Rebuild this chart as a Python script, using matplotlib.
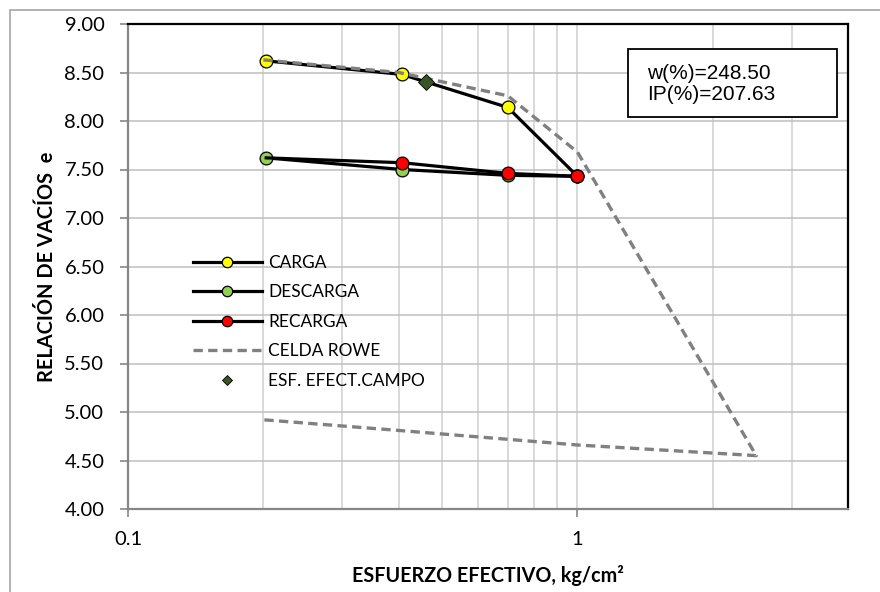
import matplotlib.pyplot as plt
from matplotlib.lines import Line2D
from matplotlib.patches import Rectangle
from matplotlib.ticker import FixedLocator, NullFormatter, FixedFormatter, FuncFormatter

plt.rcParams['font.family'] = ['Lato', 'DejaVu Sans']

# -------------------- data --------------------
carga_x = [0.203, 0.407, 0.70, 1.0]
carga_e = [8.62, 8.48, 8.14, 7.43]

descarga_x = [1.0, 0.70, 0.407, 0.203]
descarga_e = [7.43, 7.44, 7.50, 7.62]

recarga_x = [0.203, 0.407, 0.70, 1.0]
recarga_e = [7.62, 7.57, 7.46, 7.43]

rowe_x = [0.2, 0.4, 0.7, 1.0, 2.5, 1.0, 0.4, 0.2]
rowe_e = [8.63, 8.50, 8.26, 7.68, 4.55, 4.66, 4.81, 4.92]

campo_x = [0.46]
campo_e = [8.40]

y_ticks = [4.0, 4.5, 5.0, 5.5, 6.0, 6.5, 7.0, 7.5, 8.0, 8.5, 9.0]
x_major = [0.1, 1]
x_minor = [0.2, 0.3, 0.4, 0.5, 0.6, 0.7, 0.8, 0.9, 2, 3]

w_pct = 248.50
ip_pct = 207.63

# -------------------- figure --------------------
W, H = 880, 592
fig = plt.figure(figsize=(W / 100, H / 100), dpi=100)
ax = fig.add_axes([128 / W, 1 - 509 / H, (848 - 128) / W, (509 - 24) / H])

# outer chart-area border (only top/left edge falls inside the image)
fig.patches.append(Rectangle((10 / W, -0.5), 1.5, 1.5 - 10 / H, transform=fig.transFigure,
                             fill=False, edgecolor='#a6a6a6', linewidth=1.2))

lw = 2.3
ms = 9.2
ax.plot(carga_x, carga_e, color='black', lw=lw, marker='o', ms=ms,
        mfc='#ffff00', mec='black', mew=0.9, zorder=3)
ax.plot(descarga_x, descarga_e, color='black', lw=lw, marker='o', ms=ms,
        mfc='#92d050', mec='black', mew=0.9, zorder=3)
ax.plot(recarga_x, recarga_e, color='black', lw=lw, marker='o', ms=ms,
        mfc='#ff0000', mec='black', mew=0.9, markevery=[1, 2, 3], zorder=3)
ax.plot(rowe_x, rowe_e, color='#808080', lw=2.4, dashes=(2.8, 1.6), zorder=4)
ax.plot(campo_x, campo_e, ls='none', marker='D', ms=8.5, mfc='#375623',
        mec='black', mew=0.6, zorder=5)

ax.set_xscale('log')
ax.set_xlim(0.1, 4)
ax.set_ylim(4, 9)

ax.xaxis.set_major_locator(FixedLocator(x_major))
ax.xaxis.set_major_formatter(FixedFormatter(['0.1', '1']))
ax.xaxis.set_minor_locator(FixedLocator(x_minor))
ax.xaxis.set_minor_formatter(NullFormatter())
ax.set_yticks(y_ticks)
ax.yaxis.set_major_formatter(FuncFormatter(lambda v, p: f'{v:.2f}'))

ax.tick_params(axis='both', which='major', direction='out', length=6, width=1.2,
               color='#868686', labelsize=14.5)
ax.tick_params(axis='y', which='major', pad=11)
ax.tick_params(axis='x', which='major', pad=10)
ax.tick_params(axis='x', which='minor', length=0)

ax.grid(True, axis='y', which='major', color='#bfbfbf', lw=1.1)
ax.grid(True, axis='x', which='both', color='#d0d0d0', lw=1.1)
ax.set_axisbelow(True)

for s in ['left', 'bottom']:
    ax.spines[s].set_color('#868686')
    ax.spines[s].set_linewidth(1.6)
for s in ['top', 'right']:
    ax.spines[s].set_color('black')
    ax.spines[s].set_linewidth(1.6)

ax.set_xlabel('ESFUERZO EFECTIVO, kg/cm²', fontsize=14.2, fontweight='bold', labelpad=12)
ax.set_ylabel('RELACIÓN DE VACÍOS  e', fontsize=14.4, fontweight='bold', labelpad=5)

# legend
handles = [
    Line2D([], [], color='black', lw=lw, marker='o', ms=7.5, mfc='#ffff00', mec='black', mew=0.9),
    Line2D([], [], color='black', lw=lw, marker='o', ms=7.5, mfc='#92d050', mec='black', mew=0.9),
    Line2D([], [], color='black', lw=lw, marker='o', ms=7.5, mfc='#ff0000', mec='black', mew=0.9),
    Line2D([], [], color='#808080', lw=2.4, dashes=(2.8, 1.6)),
    Line2D([], [], ls='none', marker='D', ms=5.5, mfc='#375623', mec='black', mew=0.6),
]
labels = ['CARGA', 'DESCARGA', 'RECARGA', 'CELDA ROWE', 'ESF. EFECT.CAMPO']
fig.legend(handles, labels, loc='upper left', bbox_to_anchor=(193 / W, 1 - 255 / H),
           frameon=False, fontsize=12.4, handlelength=4.0, handletextpad=0.35,
           labelspacing=0.78, borderpad=0, borderaxespad=0)

# info box
fig.patches.append(Rectangle((628 / W, 1 - 117 / H), (837 - 628) / W, (117 - 49) / H,
                             transform=fig.transFigure, fill=True, facecolor='white',
                             edgecolor='black', linewidth=1.3, zorder=6))
fig.text(647 / W, 1 - 84 / H, f'w(%)={w_pct:.2f}\nIP(%)={ip_pct:.2f}',
         family='Liberation Sans', fontsize=15, va='center', ha='left',
         linespacing=1.15, zorder=7)

fig.savefig('out.png', dpi=100)
